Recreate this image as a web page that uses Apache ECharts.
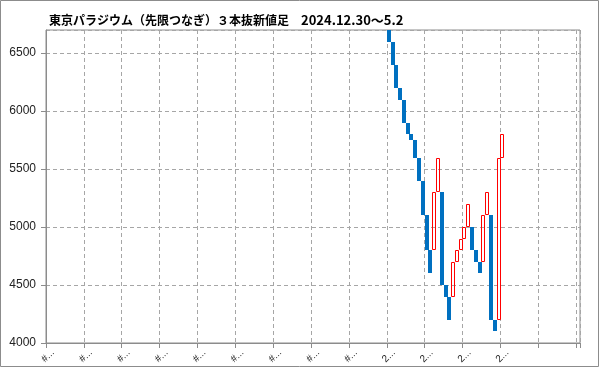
<!DOCTYPE html>
<html><head><meta charset="utf-8">
<script src="https://cdn.jsdelivr.net/npm/echarts/dist/echarts.min.js"></script>
<style>html,body{margin:0;padding:0;background:#fff}#c{width:599px;height:369px}</style>
</head><body><div id="c"></div>
<script>
// ---- data ----
const titleMain = '東京パラジウム（先限つなぎ）３本抜新値足';
const titleRange = '2024.12.30〜5.2';
const leadingLabel = '#N/A';
const leadingCount = 90;     // categories before the first bar
const trailingCount = 20;    // empty categories after the last bar
const barDates = [
  '2023/1/10','2023/1/26','2023/2/9','2023/2/22','2023/3/8','2023/3/20','2023/4/3','2023/4/19',
  '2023/5/10','2023/5/25','2023/6/13','2023/7/5','2023/7/25','2023/8/2','2023/9/28','2023/10/23',
  '2023/11/16','2023/12/14','2024/1/4','2024/1/30','2024/3/8','2024/3/26','2024/5/13','2024/6/5',
  '2024/8/5','2024/9/24','2024/10/21','2025/1/10','2025/4/7','2025/4/24','2025/5/2'
];
const opens  = [6800,6600,6400,6200,6100,5900,5800,5750,5600,5400,5100,4800,4800,5300,5300,4500,
                4400,4400,4700,4800,4900,5000,5000,4800,4700,4700,5100,5100,4200,4200,5600];
const closes = [6600,6400,6200,6100,5900,5800,5750,5600,5400,5100,4800,4600,5300,5600,4500,4400,
                4200,4700,4800,4900,5000,5200,4800,4700,4600,5100,5300,4200,4100,5600,5800];
const yMin = 4000, yMax = 6700, yStep = 500;

// ---- build ----
const categories = [];
for (let i = 0; i < leadingCount; i++) categories.push(leadingLabel);
barDates.forEach(d => categories.push(d));
for (let i = 0; i < trailingCount; i++) categories.push('');

const barData = opens.map((o, i) => [leadingCount + i, o, closes[i]]);

const GRAY = '#8c8c8c';
const UP = '#ff0000', DOWN = '#0070c0';

function renderBar(params, api) {
  const idx = api.value(0), o = api.value(1), c = api.value(2);
  const pO = api.coord([idx, o]);
  const pC = api.coord([idx, c]);
  const cx = pO[0];
  const x0 = Math.round(cx - 2);
  const yTop = Math.round(Math.min(pO[1], pC[1]));
  const yBot = Math.round(Math.max(pO[1], pC[1]));
  if (c < o) {
    return {type: 'rect', shape: {x: x0, y: yTop, width: 4, height: yBot - yTop},
            style: {fill: DOWN}};
  }
  return {type: 'rect', shape: {x: x0 + 0.5, y: yTop + 0.5, width: 3, height: yBot - yTop - 1},
          style: {fill: 'none', stroke: UP, lineWidth: 1}};
}

const chart = echarts.init(document.getElementById('c'), null, {renderer: 'canvas'});
chart.setOption({
  animation: false,
  backgroundColor: '#fff',
  title: {
    text: '{a|' + titleMain + '}{a|　}{b|' + titleRange + '}',
    left: 44, top: 9,
    textStyle: {
      rich: {
        a: {fontFamily: 'Noto Sans CJK JP', fontSize: 12, color: '#000'},
        b: {fontFamily: 'Noto Sans CJK JP', fontSize: 13, color: '#000'}
      }
    }
  },
  graphic: [{
    type: 'rect', silent: true,
    shape: {x: 0.5, y: 0.5, width: 598, height: 366},
    style: {fill: 'none', stroke: GRAY, lineWidth: 1}
  }],
  grid: {left: 46, right: 19, top: 30, bottom: 26, show: true, borderColor: GRAY, borderWidth: 1,
         containLabel: false, outerBoundsMode: 'none'},
  xAxis: {
    type: 'category', data: categories, boundaryGap: true,
    axisLine: {lineStyle: {color: GRAY}},
    axisTick: {show: true, interval: 9, length: 5, lineStyle: {color: GRAY}},
    splitLine: {show: true, interval: 9, lineStyle: {color: '#a6a6a6', type: [4, 3]}},
    axisLabel: {
      interval: 9, rotate: 45, fontSize: 10, color: '#222', fontFamily: 'Liberation Sans',
      width: 20, overflow: 'truncate', ellipsis: '...', margin: 13,
      align: 'center', verticalAlign: 'middle'
    }
  },
  yAxis: {
    type: 'value', min: yMin, max: yMax, interval: yStep,
    axisLine: {show: true, lineStyle: {color: GRAY}},
    axisTick: {show: true, length: 5, lineStyle: {color: GRAY}},
    splitLine: {show: true, lineStyle: {color: '#a6a6a6', type: [4, 3]}},
    axisLabel: {fontSize: 12, color: '#222', fontFamily: 'Liberation Sans', margin: 10,
                showMaxLabel: false, formatter: v => String(v)}
  },
  series: [{
    type: 'custom',
    data: barData,
    encode: {x: 0, y: [1, 2]},
    clip: true,
    renderItem: renderBar
  }]
});
</script></body></html>
